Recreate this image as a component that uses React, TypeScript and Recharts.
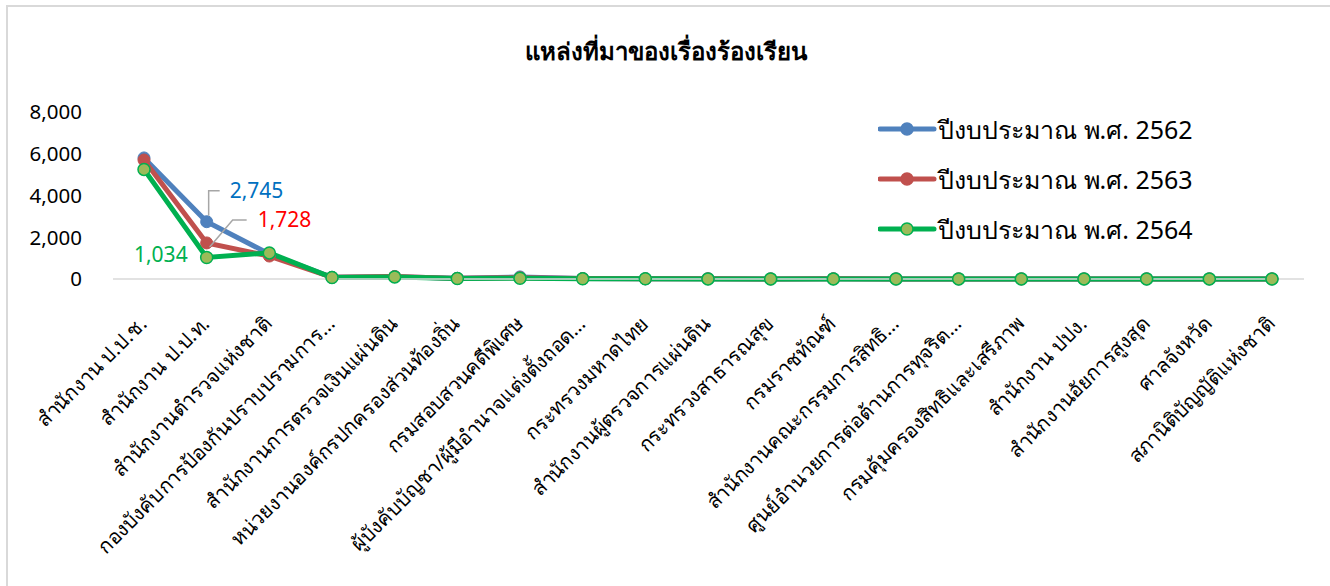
import React from "react";
import { LineChart, Line, XAxis, YAxis } from "recharts";

const categories = [
  "สำนักงาน ป.ป.ช.",
  "สำนักงาน ป.ป.ท.",
  "สำนักงานตำรวจแห่งชาติ",
  "กองบังคับการป้องกันปราบปรามการ…",
  "สำนักงานการตรวจเงินแผ่นดิน",
  "หน่วยงานองค์กรปกครองส่วนท้องถิ่น",
  "กรมสอบสวนคดีพิเศษ",
  "ผู้บังคับบัญชา/ผู้มีอำนาจแต่งตั้งถอด…",
  "กระทรวงมหาดไทย",
  "สำนักงานผู้ตรวจการแผ่นดิน",
  "กระทรวงสาธารณสุข",
  "กรมราชทัณฑ์",
  "สำนักงานคณะกรรมการสิทธิ…",
  "ศูนย์อำนวยการต่อต้านการทุจริต…",
  "กรมคุ้มครองสิทธิและเสรีภาพ",
  "สำนักงาน ปปง.",
  "สำนักงานอัยการสูงสุด",
  "ศาลจังหวัด",
  "สภานิติบัญญัติแห่งชาติ",
];

const y2562 = [5800, 2745, 1200, 80, 110, 30, 100, 20, 10, 10, 5, 10, 5, 5, 5, 5, 5, 5, 5];
const y2563 = [5700, 1728, 1100, 80, 120, 30, 60, 20, 10, 10, 5, 10, 5, 5, 5, 5, 5, 5, 5];
const y2564 = [5250, 1034, 1250, 70, 100, 20, 40, 10, 10, 5, 5, 5, 5, 5, 5, 5, 5, 5, 5];

const yTicks = [0, 2000, 4000, 6000, 8000];

const seriesNames = [
  "ปีงบประมาณ พ.ศ. 2562",
  "ปีงบประมาณ พ.ศ. 2563",
  "ปีงบประมาณ พ.ศ. 2564",
];

const data = categories.map((name, i) => ({
  name,
  a: y2562[i],
  b: y2563[i],
  c: y2564[i],
}));

const FONT = "Tahoma, 'Noto Sans', 'DejaVu Sans', sans-serif";
const BLUE = "#4F81BD";
const RED = "#C0504D";
const GREEN = "#00B050";
const LEADER = "#a6a6a6";

const XTick = (props: any) => {
  const { x, y, payload } = props;
  return (
    <g transform={`translate(${x - 1},${y + 33}) rotate(-45)`}>
      <text textAnchor="end" dy="0.35em" fontSize={20.3} fill="#000" fontFamily={FONT}>
        {payload.value}
      </text>
    </g>
  );
};

const fmt = (v: number) => v.toLocaleString("en-US");

// leader-line labels, only on the second category
const blueLabel = (p: any) => {
  if (p.index !== 1) return null;
  const { x, y, value } = p;
  return (
    <g>
      <polyline
        points={`${x + 2},${y - 6} ${x + 2},${y - 31} ${x + 13},${y - 31}`}
        fill="none"
        stroke={LEADER}
        strokeWidth={1.5}
      />
      <text x={x + 23} y={y - 31} dy="0.35em" fontSize={21} fill="#0070C0" fontFamily={FONT}>
        {fmt(value)}
      </text>
    </g>
  );
};

const redLabel = (p: any) => {
  if (p.index !== 1) return null;
  const { x, y, value } = p;
  return (
    <g>
      <polyline
        points={`${x + 3},${y + 4} ${x + 26},${y - 23} ${x + 40},${y - 23}`}
        fill="none"
        stroke={LEADER}
        strokeWidth={1.5}
      />
      <text x={x + 51} y={y - 23} dy="0.35em" fontSize={21} fill="#FF0000" fontFamily={FONT}>
        {fmt(value)}
      </text>
    </g>
  );
};

const greenLabel = (p: any) => {
  if (p.index !== 1) return null;
  const { x, y, value } = p;
  return (
    <text x={x - 19} y={y - 3} dy="0.35em" textAnchor="end" fontSize={21} fill={GREEN} fontFamily={FONT}>
      {fmt(value)}
    </text>
  );
};

const legendItems = [
  { name: seriesNames[0], line: BLUE, fill: BLUE, stroke: BLUE },
  { name: seriesNames[1], line: RED, fill: RED, stroke: RED },
  { name: seriesNames[2], line: GREEN, fill: "#9BBB59", stroke: GREEN },
];

export default function App() {
  return (
    <div style={{ position: "absolute", left: 0, top: 0, width: 1330, height: 586, background: "#fff", overflow: "hidden", fontFamily: FONT }}>
      <div
        style={{
          position: "absolute",
          left: 6,
          top: 5,
          width: 1330,
          height: 600,
          borderTop: "2px solid #d9d9d9",
          borderLeft: "2px solid #d9d9d9",
        }}
      />
      <div
        style={{
          position: "absolute",
          left: 0,
          top: 32,
          width: 1332,
          textAlign: "center",
          fontSize: 24,
          fontWeight: "bold",
          color: "#000",
        }}
      >
        แหล่งที่มาของเรื่องร้องเรียน
      </div>
      <div style={{ position: "absolute", left: 0, top: 0 }}>
        <LineChart width={1330} height={586} data={data} margin={{ top: 112, right: 26, bottom: 7, left: 0 }}>
          <XAxis
            dataKey="name"
            interval={0}
            padding={{ left: 31, right: 32 }}
            axisLine={{ stroke: "#d9d9d9", strokeWidth: 1.5 }}
            tickLine={false}
            tick={<XTick />}
            height={300}
          />
          <YAxis
            domain={[0, 8000]}
            ticks={yTicks}
            tickFormatter={fmt}
            axisLine={false}
            tickLine={false}
            tickMargin={25}
            width={113}
            tick={{ fontSize: 20.5, fill: "#000", fontFamily: FONT }}
          />
          <Line
            dataKey="a"
            name={seriesNames[0]}
            stroke={BLUE}
            strokeWidth={5}
            dot={{ r: 6, fill: BLUE, stroke: BLUE, strokeWidth: 1 }}
            label={blueLabel}
            isAnimationActive={false}
          />
          <Line
            dataKey="b"
            name={seriesNames[1]}
            stroke={RED}
            strokeWidth={5}
            dot={{ r: 6, fill: RED, stroke: RED, strokeWidth: 1 }}
            label={redLabel}
            isAnimationActive={false}
          />
          <Line
            dataKey="c"
            name={seriesNames[2]}
            stroke={GREEN}
            strokeWidth={5}
            dot={{ r: 6, fill: "#9BBB59", stroke: GREEN, strokeWidth: 1.5 }}
            label={greenLabel}
            isAnimationActive={false}
          />
        </LineChart>
      </div>
      <div style={{ position: "absolute", left: 878, top: 104 }}>
        {legendItems.map((it) => (
          <div key={it.name} style={{ display: "flex", alignItems: "center", height: 50 }}>
            <svg width={60} height={20}>
              <line x1={2} y1={10} x2={56} y2={10} stroke={it.line} strokeWidth={5} strokeLinecap="round" />
              <circle cx={29} cy={10} r={6} fill={it.fill} stroke={it.stroke} strokeWidth={1.5} />
            </svg>
            <span style={{ fontSize: 25, color: "#000", lineHeight: "30px" }}>{it.name}</span>
          </div>
        ))}
      </div>
    </div>
  );
}
